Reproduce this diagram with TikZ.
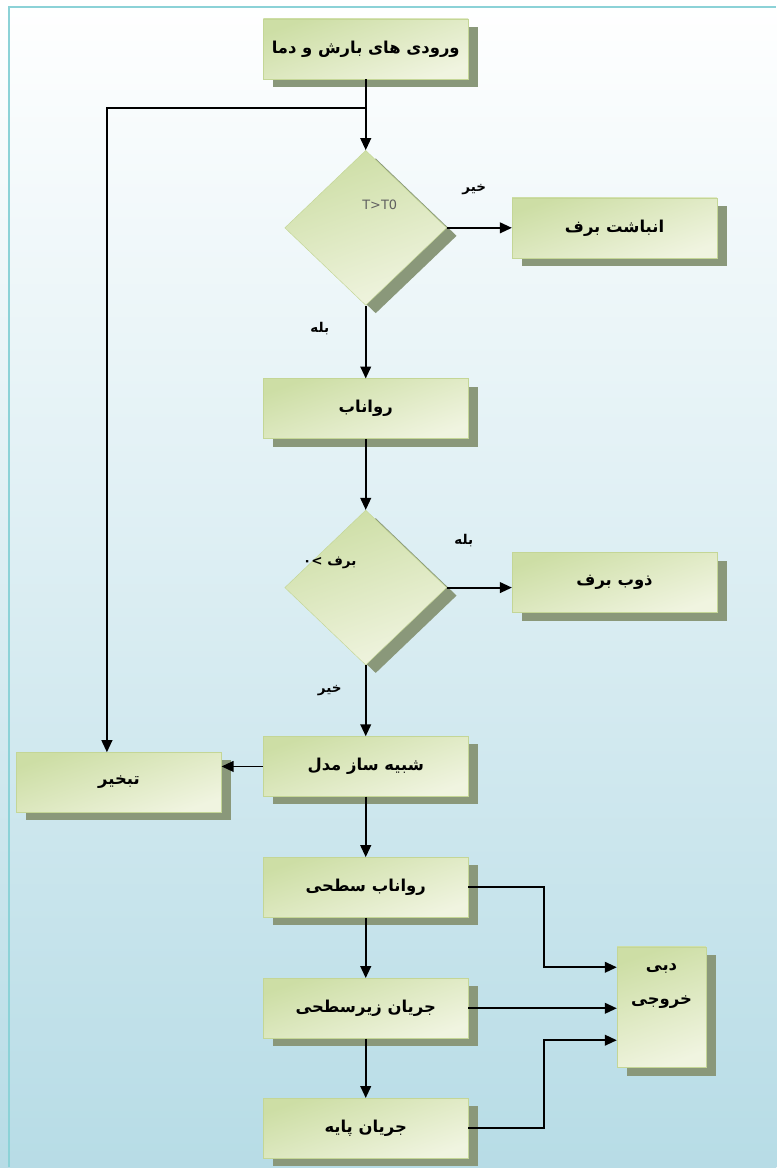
\documentclass[tikz,border=0pt]{standalone}
\usepackage{fontspec}
\setmainfont{DejaVu Sans}
\newfontfamily\arabicfont[Script=Arabic]{DejaVu Sans}
\TeXXeTstate=1
\usetikzlibrary{shapes.geometric,arrows.meta,shadows}
\definecolor{bgblue}{RGB}{183,220,230}
\definecolor{edgecyan}{RGB}{140,210,215}
\definecolor{boxdark}{RGB}{205,222,165}
\definecolor{boxlight}{RGB}{240,244,224}
\definecolor{boxedge}{RGB}{196,214,150}
\definecolor{shadowgreen}{RGB}{138,152,122}
\newcommand{\fatext}[1]{{\arabicfont\beginR #1\endR}}

\begin{document}
\begin{tikzpicture}[
        x=0.03cm, y=-0.03cm,
        >={Triangle[length=0.36cm,width=0.32cm]},
        flow/.style={->, line width=1.6pt},
        box/.style={rectangle, draw=boxedge, top color=boxdark, bottom color=boxlight,
                    shading angle=20, minimum width=6.15cm, minimum height=1.8cm,
                    inner sep=0pt, font=\fontsize{14}{17}\selectfont\bfseries,
                    drop shadow={shadow xshift=0.3cm, shadow yshift=-0.24cm,
                                 fill=shadowgreen, opacity=1}},
        test/.style={diamond, draw=boxedge, top color=boxdark, bottom color=boxlight,
                     shading angle=20, minimum width=4.86cm, minimum height=4.65cm,
                     inner sep=0pt,
                     drop shadow={shadow xshift=0.3cm, shadow yshift=-0.24cm,
                                  fill=shadowgreen, opacity=1}},
        tag/.style={font=\fontsize{11.5}{14}\selectfont\bfseries}
    ]
        \fill[top color=white, bottom color=bgblue] (0,0) rectangle (777,1168);
        \draw[edgecyan, line width=1.5pt] (9,1168) -- (9,7) -- (777,7);

        \node[box] (l1) at (366,49) {\fatext{ورودی های بارش و دما}};
        \node[test, below of=l1, node distance=5.37cm,
              label={[xshift=0.42cm, yshift=0.69cm, font=\fontsize{11}{13}\selectfont,
                      text=gray!75!black]center:T>T0}] (d1) {};
        \node[box, below of=d1, node distance=5.43cm] (l2) {\fatext{رواناب}};
        \node[test, below of=l2, node distance=5.37cm,
              label={[xshift=-1.08cm, yshift=0.75cm, tag]center:{\arabicfont\beginR برف >۰\endR}}] (d2) {};
        \node[box, below of=d2, node distance=5.37cm] (l3) {\fatext{شبیه ساز مدل}};
        \node[box, below of=l3, node distance=3.63cm] (l4) {\fatext{رواناب سطحی}};
        \node[box, below of=l4, node distance=3.63cm] (l5) {\fatext{جریان زیرسطحی}};
        \node[box, below of=l5, node distance=3.6cm] (l6) {\fatext{جریان پایه}};

        \node[box, right of=d1, node distance=7.47cm] (snow) {\fatext{انباشت برف}};
        \node[box, right of=d2, node distance=7.47cm, yshift=0.15cm] (melt) {\fatext{ذوب برف}};
        \node[box, left of=l3, node distance=7.41cm, yshift=-0.48cm] (evap) {\fatext{تبخیر}};
        \node[box, minimum width=2.67cm, minimum height=3.63cm,
              label={[anchor=north, yshift=-0.38cm, align=center,
                      font=\fontsize{14}{17}\selectfont\bfseries]north:{\fatext{دبی}\\[12pt]\fatext{خروجی}}}]
              (out) at (662,1008) {};

        \coordinate (split) at (366,108);
        \draw[flow] (l1) -- (d1);
        \draw[flow] (split) -| ([xshift=-0.36cm]evap.north);
        \draw[flow] (d1) -- node[tag, pos=0.42, yshift=1.14cm] {\fatext{خیر}} (snow);
        \draw[flow] (d1) -- node[tag, pos=0.32, xshift=-1.38cm] {\fatext{بله}} (l2);
        \draw[flow] (l2) -- (d2);
        \draw[flow] (d2) -- node[tag, pos=0.26, yshift=1.41cm] {\fatext{بله}} (d2 -| melt.west);
        \draw[flow] (d2) -- node[tag, pos=0.35, xshift=-1.08cm] {\fatext{خیر}} (l3);
        \draw[flow] (l3) -- (l3 -| evap.east);
        \draw[flow] (l3) -- (l4);
        \draw[flow] (l4) -- (l5);
        \draw[flow] (l5) -- (l6);
        \draw[flow] (l4.east) -- ++(76,0) |- ([yshift=1.2cm]out.west);
        \draw[flow] (l5.east) -- (l5.east -| out.west);
        \draw[flow] (l6.east) -- ++(76,0) |- ([yshift=-0.99cm]out.west);
    \end{tikzpicture}
\end{document}
